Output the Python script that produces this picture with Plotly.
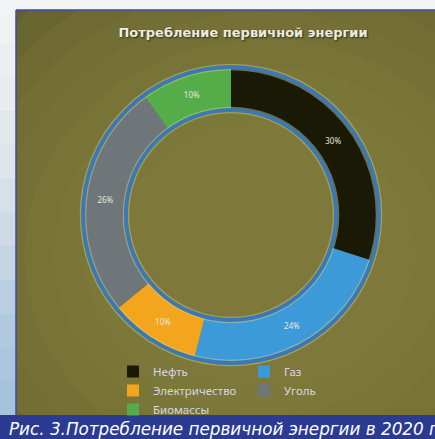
import plotly.graph_objects as go

# ---- data ----
categories = ["Нефть", "Газ", "Электричество", "Уголь", "Биомассы"]
shares = [30, 24, 10, 26, 10]
colors = ["#1a1905", "#3d9ad8", "#f4a51e", "#6e767a", "#54ad48"]
title_text = "Потребление первичной энергии"
caption_text = "Рис. 3.Потребление первичной энергии в 2020 г."

# ---- geometry helpers ----
W, H = 435, 439
L, R, T, B = 80, 50, 0, 0
GW = W - L - R
GH = H - T - B


def fx(p):
    return (p - L) / GW


def fy(p):
    return (H - B - p) / GH


cx, cy, rad = 231, 215, 148
dom = dict(x=[fx(cx - rad), fx(cx + rad)], y=[fy(cy + rad), fy(cy - rad)])
hole = 0.71
band_top = 415

fig = go.Figure()

fig.add_trace(go.Pie(
    labels=categories, values=shares, sort=False, direction="clockwise",
    rotation=0, hole=hole, domain=dom,
    marker=dict(colors=colors, line=dict(width=0)),
    textinfo="percent", textposition="inside", insidetextorientation="horizontal",
    textfont=dict(size=8, color="#e8e8d8", family="Noto Sans"),
    hoverinfo="label+percent",
))

# outline rings (halo + blue)
fig.add_trace(go.Pie(
    values=[1], labels=["ring"], hole=hole, domain=dom, sort=False,
    marker=dict(colors=["rgba(0,0,0,0)"], line=dict(color="rgba(215,210,120,0.45)", width=6.5)),
    textinfo="none", hoverinfo="skip", showlegend=False,
))
fig.add_trace(go.Pie(
    values=[1], labels=["ring2"], hole=hole, domain=dom, sort=False,
    marker=dict(colors=["rgba(0,0,0,0)"], line=dict(color="#3b78b4", width=4)),
    textinfo="none", hoverinfo="skip", showlegend=False,
))

shapes = []
# olive panel base
shapes.append(dict(type="rect", xref="paper", yref="paper", layer="below",
                   x0=fx(16), x1=fx(435), y0=fy(band_top), y1=fy(10),
                   fillcolor="#545024", line=dict(width=0)))
# vignette ellipses for lighter centre (many soft steps)
steps = 10
for i in range(steps):
    r_out = 420 - i * 30
    shapes.append(dict(type="circle", xref="paper", yref="paper", layer="below",
                       x0=fx(265 - r_out), x1=fx(265 + r_out),
                       y0=fy(255 + r_out * 0.9), y1=fy(255 - r_out * 0.9),
                       fillcolor="#86823f", opacity=0.17, line=dict(width=0)))
# white top strip and left strip (drawn over spills)
shapes.append(dict(type="rect", xref="paper", yref="paper", layer="below",
                   x0=fx(-40), x1=fx(480), y0=fy(10), y1=fy(-40),
                   fillcolor="#f1f3f4", line=dict(width=0)))
strip_cols = ["#f0f2f3", "#eceff1", "#e8ecef", "#e3e8ec", "#dde4ea", "#d6e0e8",
              "#cedae6", "#c5d5e4", "#bbcfe2", "#b2cae0", "#abc6de", "#a6c3dd"]
n = len(strip_cols)
for i, c in enumerate(strip_cols):
    y0p = 10 + i * (band_top - 10) / n
    y1p = 10 + (i + 1) * (band_top - 10) / n
    shapes.append(dict(type="rect", xref="paper", yref="paper", layer="below",
                       x0=fx(-40), x1=fx(16), y0=fy(y1p + 0.5), y1=fy(y0p),
                       fillcolor=c, line=dict(width=0)))
# panel blue border
shapes.append(dict(type="line", xref="paper", yref="paper", layer="below",
                   x0=fx(16), x1=fx(16), y0=fy(band_top), y1=fy(10),
                   line=dict(color="#3a4ea2", width=1.5)))
shapes.append(dict(type="line", xref="paper", yref="paper", layer="below",
                   x0=fx(16), x1=fx(440), y0=fy(10), y1=fy(10),
                   line=dict(color="#3a4ea2", width=1.5)))
# caption band
shapes.append(dict(type="rect", xref="paper", yref="paper", layer="below",
                   x0=fx(-40), x1=fx(480), y0=fy(480), y1=fy(band_top),
                   fillcolor="#2b3b92", line=dict(width=0)))

fig.update_layout(
    width=W, height=H,
    margin=dict(l=L, r=R, t=T, b=B, pad=0),
    paper_bgcolor="#f1f3f4", plot_bgcolor="rgba(0,0,0,0)",
    shapes=shapes,
    title=dict(text="<b>" + title_text + "</b>", x=243 / W, xref="container", xanchor="center",
               y=1 - 32 / H, yref="container", yanchor="middle",
               font=dict(family="DejaVu Sans", size=13, color="#ecebe2",
                         shadow="1px 1px 2px rgba(0,0,0,0.6)")),
    legend=dict(orientation="h", x=fx(113), xanchor="left", y=fy(357), yanchor="top",
                entrywidth=86, entrywidthmode="pixels",
                font=dict(family="Noto Sans", size=11.5, color="#d6d6e4"),
                bgcolor="rgba(0,0,0,0)", traceorder="normal"),
    annotations=[dict(text="<i>" + caption_text + "</i>", xref="paper", yref="paper",
                      x=fx(7), y=fy(429), xanchor="left", yanchor="middle", showarrow=False,
                      font=dict(family="DejaVu Sans", size=16.8, color="#ffffff"))],
)

fig.write_html("out.html", config={"displayModeBar": False},
               post_script="document.body.style.margin='0';document.body.style.overflow='hidden';")
